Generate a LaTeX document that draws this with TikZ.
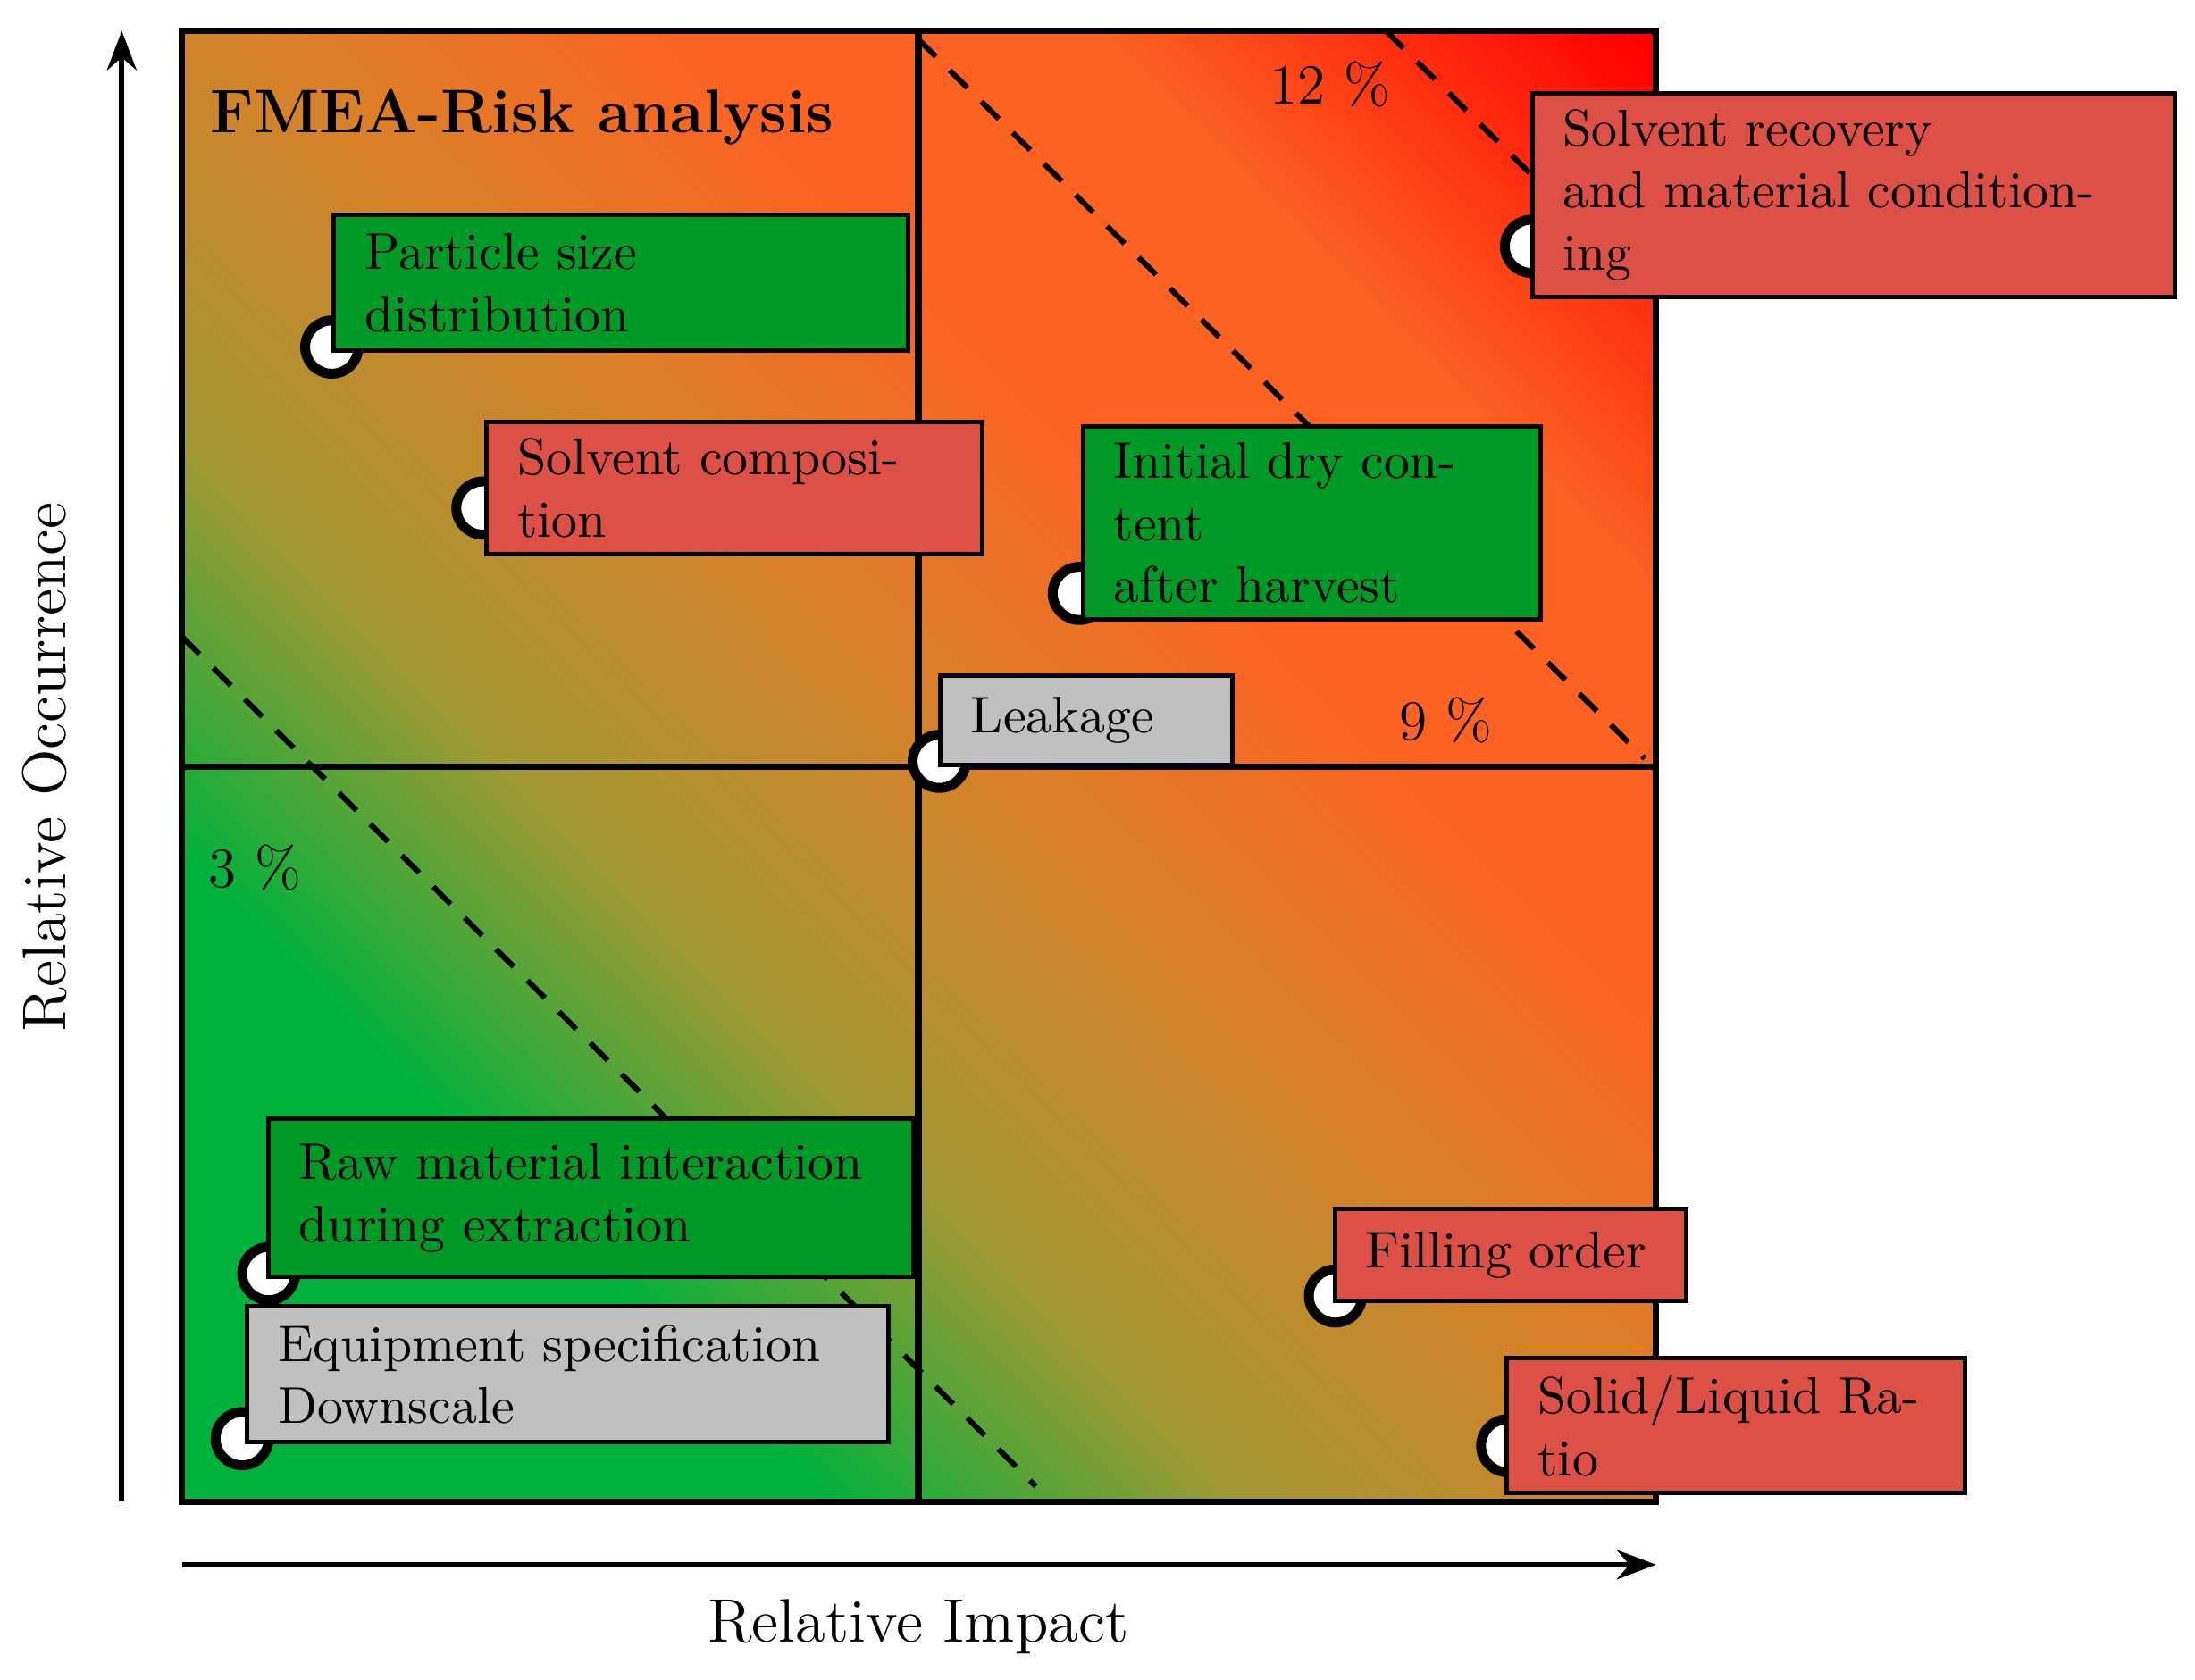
\documentclass[tikz,border=0pt]{standalone}
\usetikzlibrary{arrows.meta}
\definecolor{gr}{RGB}{0,178,60}
\definecolor{ol}{RGB}{160,152,52}
\definecolor{org}{RGB}{218,128,40}
\definecolor{or2}{RGB}{252,98,34}
\definecolor{rd}{RGB}{255,0,0}
\definecolor{boxg}{RGB}{0,155,38}
\definecolor{boxr}{RGB}{220,80,70}
\definecolor{boxy}{RGB}{192,192,192}
\pgfdeclarehorizontalshading{risk}{100bp}{color(0bp)=(gr); color(30bp)=(gr); color(40bp)=(ol); color(52bp)=(org); color(62bp)=(or2); color(72bp)=(or2); color(85bp)=(rd); color(100bp)=(rd)}
\tikzset{
  risklbl/.style={font=\fontsize{10.5}{12.6}\selectfont},
  riskbox/.style={draw=black, line width=0.9pt, anchor=north west, align=left, inner xsep=0.22cm, risklbl},
  riskmark/.style={circle, draw=black, fill=white, line width=2pt, minimum size=0.38cm, inner sep=0pt},
  riskframe/.style={line width=1.3pt},
  dashln/.style={line width=1.1pt, dash pattern=on 5pt off 4pt},
  riskax/.style={line width=1.1pt, -{Stealth[length=8pt,width=6pt]}}
}
\newcommand{\riskitem}[9]{%
  \node[riskmark] (m#1) at (#7,#8) {};
  \node[riskbox, fill=#2, minimum width={(#5-#3)*0.01cm}, minimum height={(#6-#4)*0.01cm}, text width={(#5-#3)*0.01cm-0.44cm}] (b#1) at (#3,#4) {#9};
}
\begin{document}
\begin{tikzpicture}[x=0.01cm,y=-0.01cm]
\useasboundingbox (0,0) rectangle (1568,1200);
\shade[shading=risk, shading angle=45] (130,22) rectangle (1183,1073);
% dashed lines
\coordinate (d1a) at (130,455); \coordinate (d1b) at (740,1062);
\coordinate (d2a) at (656,28); \coordinate (d2b) at (1175,542);
\coordinate (d3a) at (990,22); \coordinate (d3b) at (1185,215);
\draw[dashln] (d1a) -- (d1b);
\draw[dashln] (d2a) -- (d2b);
\draw[dashln] (d3a) -- (d3b);
% frame
\coordinate (tl) at (130,22); \coordinate (br) at (1183,1073);
\coordinate (vt) at (656,22); \coordinate (vb) at (656,1073);
\coordinate (hl) at (130,548); \coordinate (hr) at (1183,548);
\draw[riskframe] (tl) rectangle (br);
\draw[riskframe] (vt) -- (vb);
\draw[riskframe] (hl) -- (hr);
% labels
\node[font=\fontsize{12.5}{15}\selectfont\bfseries] (title) at (373,84) {FMEA-Risk analysis};
\node[font=\fontsize{11.5}{14}\selectfont] (p12) at (950,60) {12 \%};
\node[font=\fontsize{11.5}{14}\selectfont] (p9) at (1033,515) {9 \%};
\node[font=\fontsize{11.5}{14}\selectfont] (p3) at (182,620) {3 \%};
% items
\riskitem{1}{boxg}{237}{152}{647}{249}{237}{248}{Particle size\\distribution}
\riskitem{2}{boxr}{346}{300}{700}{365}{345}{363}{Solvent composition}
\riskitem{3}{boxg}{772}{303}{1099}{423}{771}{424}{Initial dry content\\after harvest}
\riskitem{4}{boxy}{670}{481}{879}{545}{671}{544}{Leakage}
\riskitem{5}{boxr}{1093}{65}{1552}{176}{1094}{176}{Solvent recovery\\and material conditioning}
\riskitem{6}{boxg}{190}{798}{651}{911}{192}{910}{Raw material interaction\\during extraction}
\riskitem{7}{boxy}{175}{932}{633}{1029}{173}{1028}{Equipment specification\\Downscale}
\riskitem{8}{boxr}{952}{862}{1203}{928}{954}{926}{Filling order}
\riskitem{9}{boxr}{1075}{969}{1402}{1034}{1077}{1033}{Solid/Liquid Ratio}
% axes
\coordinate (ya) at (87,1073); \coordinate (yb) at (87,22);
\coordinate (xa) at (130,1118); \coordinate (xb) at (1183,1118);
\draw[riskax] (ya) -- (yb);
\draw[riskax] (xa) -- (xb);
\node[rotate=90, font=\fontsize{12.5}{15}\selectfont] (ylab) at (32,548) {Relative Occurrence};
\node[font=\fontsize{12.5}{15}\selectfont] (xlab) at (656,1162) {Relative Impact};
\end{tikzpicture}
\end{document}
